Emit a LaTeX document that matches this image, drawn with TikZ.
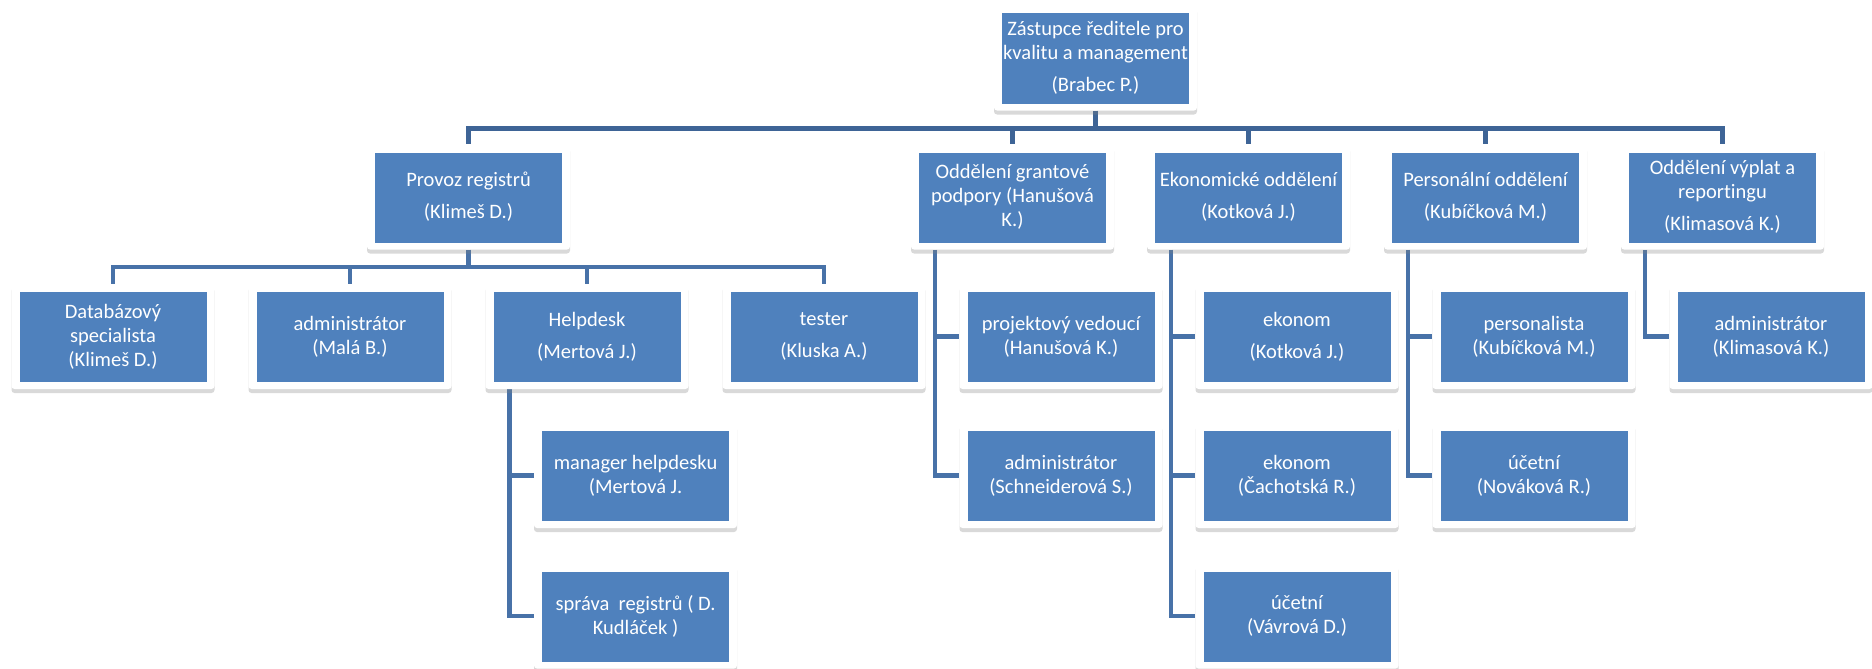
\documentclass[tikz,border=0pt]{standalone}
\usepackage{fontspec}
\setmainfont{Carlito}[Ligatures=NoCommon]
\usetikzlibrary{shadows,backgrounds}
\definecolor{boxblue}{RGB}{79,129,189}
\definecolor{linec}{RGB}{72,114,168}
\definecolor{linetop}{RGB}{62,100,150}
\tikzset{
 orgbox/.style={fill=white, rounded corners=3pt, minimum width=203pt, minimum height=105pt,
   inner sep=0pt, align=center, text=white, font=\fontsize{20.5}{24}\selectfont,
   drop shadow={shadow xshift=0pt, shadow yshift=-4pt, opacity=0.3},
   path picture={\fill[boxblue, sharp corners] ([shift={(8pt,7pt)}]path picture bounding box.south west) rectangle ([shift={(-8pt,-8pt)}]path picture bounding box.north east);}},
 conn/.style={draw=linec, line width=4.5pt},
 conntop/.style={draw=linetop, line width=4.5pt},
}
\begin{document}
\begin{tikzpicture}[x=1pt,y=-1pt]
\useasboundingbox (0,0) rectangle (1872,669);
% top
\node[orgbox] (top) at (1095.5,58) {Zástupce ředitele pro\\kvalitu a management\\[8pt](Brabec P.)};
% row 1
\node[orgbox] (prov) at (468.5,197) {Provoz registrů\\[8pt](Klimeš D.)};
\node[orgbox] (grant) at (1012.5,197) {Oddělení grantové\\podpory (Hanušová\\K.)};
\node[orgbox] (ekon) at (1248.5,197) {Ekonomické oddělení\\[8pt](Kotková J.)};
\node[orgbox] (pers) at (1485.5,197) {Personální oddělení\\[8pt](Kubíčková M.)};
\node[orgbox] (vypl) at (1722.5,197) {Oddělení výplat a\\reportingu\\[8pt](Klimasová K.)};
% row 2 under Provoz
\node[orgbox] (datab) at (113,336.5) {Databázový\\specialista\\(Klimeš D.)};
\node[orgbox] (adm) at (350,336.5) {administrátor\\(Malá B.)};
\node[orgbox] (help) at (587,336.5) {Helpdesk\\[8pt](Mertová J.)};
\node[orgbox] (test) at (824,336.5) {tester\\[8pt](Kluska A.)};
% helpdesk children
\node[orgbox] (mgr) at (635.5,475.5) {manager helpdesku\\(Mertová J.};
\node[orgbox] (spr) at (635.5,616) {správa\ \ registrů ( D.\\Kudláček )};
% grant children
\node[orgbox] (gc1) at (1061,336.5) {projektový vedoucí\\(Hanušová K.)};
\node[orgbox] (gc2) at (1061,475.5) {administrátor\\(Schneiderová S.)};
% ekon children
\node[orgbox] (ec1) at (1297,336.5) {ekonom\\[8pt](Kotková J.)};
\node[orgbox] (ec2) at (1297,475.5) {ekonom\\(Čachotská R.)};
\node[orgbox] (ec3) at (1297,616) {účetní\\(Vávrová D.)};
% pers children
\node[orgbox] (pc1) at (1534,336.5) {personalista\\(Kubíčková M.)};
\node[orgbox] (pc2) at (1534,475.5) {účetní\\(Nováková R.)};
% vypl child
\node[orgbox] (vc1) at (1771,336.5) {administrátor\\(Klimasová K.)};
\begin{pgfonlayer}{background}
\foreach \c in {prov,grant,ekon,pers,vypl}
  \draw[conntop] (top.south) -- ++(0,18) -| (\c.north);
\foreach \c in {datab,adm,help,test}
  \draw[conn] (prov.south) -- ++(0,17.5) -| (\c.north);
\foreach \p/\c in {help/mgr,help/spr,grant/gc1,grant/gc2,ekon/ec1,ekon/ec2,ekon/ec3,pers/pc1,pers/pc2,vypl/vc1}
  \draw[conn] ([xshift=24pt]\p.south west) |- (\c.west);
\end{pgfonlayer}
\end{tikzpicture}
\end{document}
